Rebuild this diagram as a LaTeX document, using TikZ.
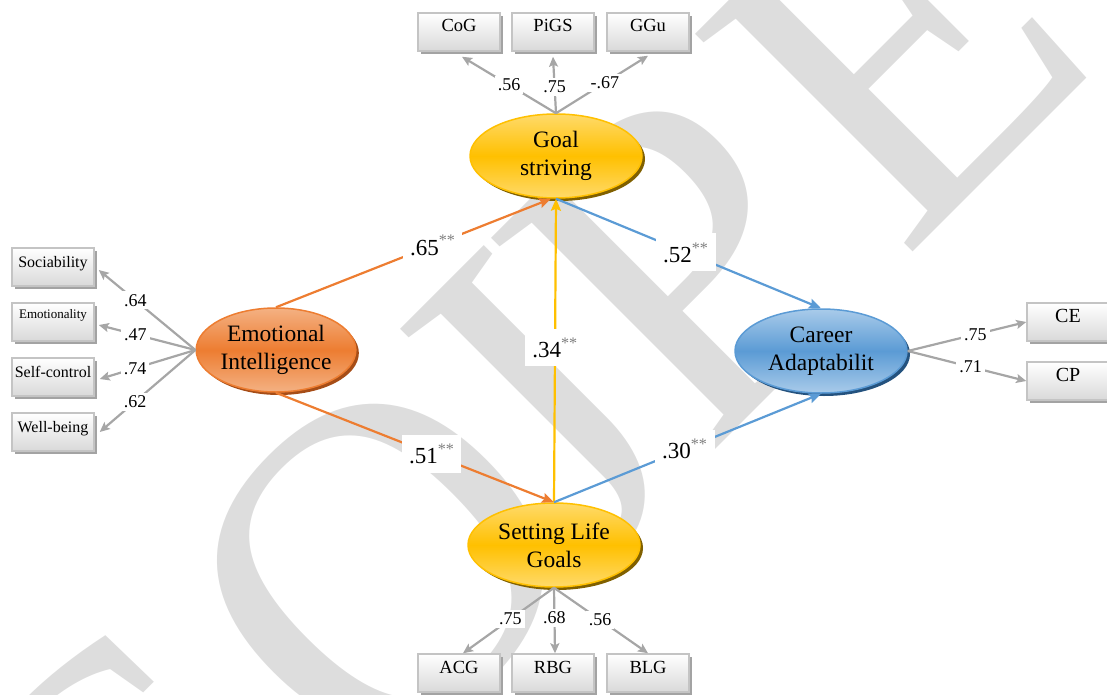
\documentclass[tikz,border=0pt]{standalone}
\usepackage{fontspec}
\setmainfont{Liberation Serif}
\usetikzlibrary{shapes.geometric,arrows.meta,shadows}
\definecolor{wm}{HTML}{DDDDDD}
\definecolor{orng}{HTML}{ED7D31}
\definecolor{orngl}{HTML}{F4B183}
\definecolor{orngd}{HTML}{A64D17}
\definecolor{blu}{HTML}{5B9BD5}
\definecolor{blul}{HTML}{A9CBEA}
\definecolor{blud}{HTML}{24527E}
\definecolor{yel}{HTML}{FFC000}
\definecolor{yell}{HTML}{FFDA6A}
\definecolor{yeld}{HTML}{806000}
\definecolor{lgray}{HTML}{A6A6A6}
\definecolor{bxb}{HTML}{C4C4C4}
\definecolor{bxs}{HTML}{A3A3A3}
\definecolor{bxf}{HTML}{D9D9D9}
\definecolor{supc}{HTML}{7F7F7F}
\begin{document}
\begin{tikzpicture}[x=1pt,y=-1pt,
  wmk/.style={rotate=45, text=wm, anchor=base west, inner sep=0pt,
    font=\fontsize{470}{470}\selectfont},
  lat/.style={ellipse, minimum width=172pt, minimum height=84pt, inner sep=1pt,
    align=center, font=\fontsize{23.5}{28}\selectfont, line width=1.5pt},
  latY/.style={lat, draw=yel, top color=yell, bottom color=yell, middle color=yel,
    drop shadow={shadow xshift=3pt,shadow yshift=-3pt,fill=yeld,opacity=1}},
  latO/.style={lat, draw=orng, top color=orngl, bottom color=orngl, middle color=orng,
    drop shadow={shadow xshift=3pt,shadow yshift=-3pt,fill=orngd,opacity=1}},
  latB/.style={lat, draw=blu, top color=blul, bottom color=blul, middle color=blu,
    drop shadow={shadow xshift=3pt,shadow yshift=-3pt,fill=blud,opacity=1}},
  obs/.style={rectangle, draw=bxb, line width=1.5pt, top color=white, bottom color=bxf,
    minimum width=82pt, inner xsep=1pt, inner ysep=2pt, text height=17pt, text depth=17pt,
    font=\fontsize{18.5}{20}\selectfont,
    drop shadow={shadow xshift=3pt,shadow yshift=-3pt,fill=bxs,opacity=1}},
  ld/.style={draw=lgray, line width=2.2pt, -{Stealth[length=10pt,width=9pt,inset=2pt]}},
  lv/.style={fill=white, inner sep=3pt, font=\fontsize{18}{18}\selectfont},
  pc/.style={fill=white, inner xsep=7pt, inner ysep=9pt, font=\fontsize{23}{23}\selectfont},
  po/.style={draw=orng, line width=2.2pt, -{Stealth[length=12pt,width=10pt,inset=2pt]}},
  pb/.style={draw=blu, line width=2.2pt, -{Stealth[length=12pt,width=10pt,inset=2pt]}},
  py/.style={draw=yel, line width=2.2pt, -{Stealth[length=12pt,width=10pt,inset=2pt]}}
]
\useasboundingbox (0,0) rectangle (1107,695);
\begin{scope}
  \clip (0,0) rectangle (1107,695);
  \node[wmk] (w1) at (118.7,1046.3) {C};
  \node[wmk] (w2) at (369.7,795.3) {O};
  \node[wmk] (w3) at (579.7,585.3) {J};
  \node[wmk] (w4) at (699.2,465.8) {P};
  \node[wmk] (w5) at (903.5,261.5) {E};
\end{scope}

% latent variables
\node[latY] (gs) at (556,156) {Goal\\striving};
\node[latO, minimum width=152pt] (ei) at (276,350) {Emotional\\Intelligence};
\node[latB] (ca) at (821,351) {Career\\Adaptabilit};
\node[latY] (slg) at (554,545) {Setting Life\\Goals};

% indicators
\node[obs] (cog) at (459,32) {CoG};
\node[obs] (pigs) at (553,32) {PiGS};
\node[obs] (ggu) at (648,32) {GGu};
\node[obs, font=\fontsize{16}{16}\selectfont] (soc) at (53,267) {Sociability};
\node[obs, font=\fontsize{13}{13}\selectfont, text depth=21pt, text height=13pt] (emo) at (53,322) {Emotionality};
\node[obs, font=\fontsize{16}{16}\selectfont] (sc) at (53,377) {Self-control};
\node[obs, font=\fontsize{16}{16}\selectfont] (wb) at (53,432) {Well-being};
\node[obs, font=\fontsize{20}{20}\selectfont] (ce) at (1068,322) {CE};
\node[obs, font=\fontsize{20}{20}\selectfont] (cp) at (1068,381) {CP};
\node[obs] (acg) at (459,673) {ACG};
\node[obs] (rbg) at (553,673) {RBG};
\node[obs] (blg) at (648,673) {BLG};

% loadings
\draw[ld] (gs.north) -- node[lv,pos=0.5] {.56} ([xshift=3pt,yshift=-5pt]cog.south);
\draw[ld] (gs.north) -- node[lv,pos=0.47] {.75} ([yshift=-5pt]pigs.south);
\draw[ld] (gs.north) -- node[lv,pos=0.53] {-.67} ([yshift=-4pt]ggu.south);

\draw[ld] (ei.west) -- node[lv,pos=0.62] {.64} ([xshift=4pt,yshift=-3pt]soc.east);
\draw[ld] (ei.west) -- node[lv,pos=0.62] {.47} ([xshift=4pt,yshift=-3pt]emo.east);
\draw[ld] (ei.west) -- node[lv,pos=0.63] {.74} ([xshift=5pt,yshift=-2pt]sc.east);
\draw[ld] (ei.west) -- node[lv,pos=0.63] {.62} ([xshift=5pt]wb.east);

\draw[ld] (ca.east) -- node[lv,pos=0.57] {.75} (ce.west);
\draw[ld] (ca.east) -- node[lv,pos=0.53] {.71} (cp.west);

\draw[ld] (slg.south) -- node[lv,pos=0.48] {.75} ([xshift=4pt]acg.north);
\draw[ld] (slg.south) -- node[lv,pos=0.46] {.68} ([xshift=2pt]rbg.north);
\draw[ld] (slg.south) -- node[lv,pos=0.49] {.56} (blg.north);

% structural paths
\draw[po] (ei.north) -- node[pc,pos=0.57] {.65\textsuperscript{\color{supc}**}} ([xshift=-5pt]gs.south);
\draw[po] (ei.south) -- node[pc,pos=0.56] {.51\textsuperscript{\color{supc}**}} (slg.north);
\draw[py] (slg.north) -- node[pc,pos=0.51] {.34\textsuperscript{\color{supc}**}} (gs.south);
\draw[pb] (gs.south) -- node[pc,pos=0.49] {.52\textsuperscript{\color{supc}**}} (ca.north);
\draw[pb] (slg.north) -- node[pc,pos=0.49] {.30\textsuperscript{\color{supc}**}} (ca.south);
\end{tikzpicture}
\end{document}
